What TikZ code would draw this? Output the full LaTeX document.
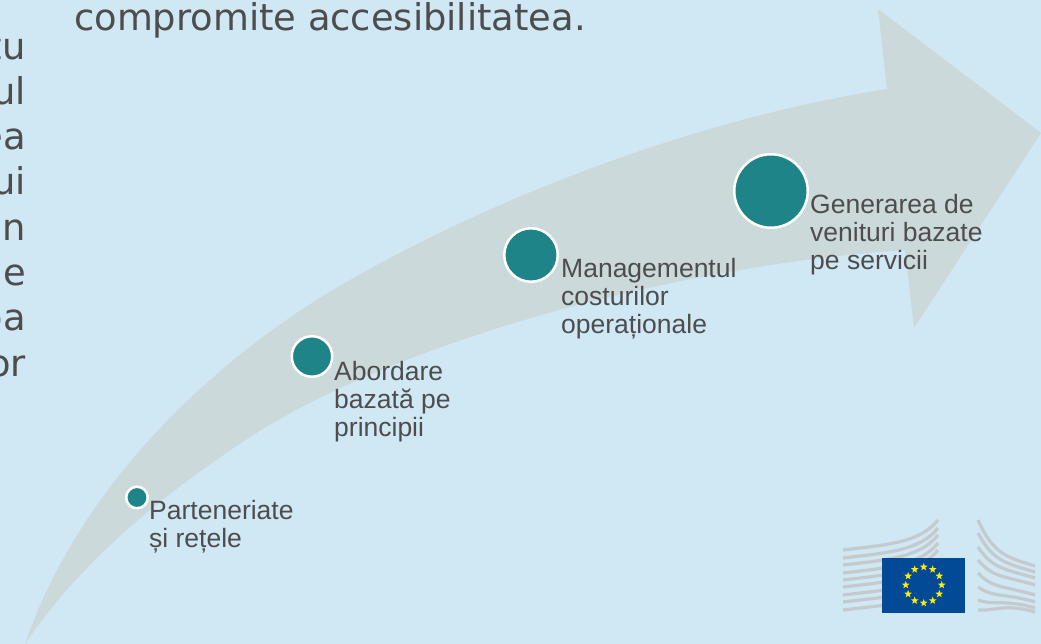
\documentclass[tikz,border=0pt]{standalone}
\usepackage{fontspec}
\setmainfont{Liberation Sans}
\newfontfamily\bodyfont{DejaVu Sans}
\usetikzlibrary{shapes.geometric}
\definecolor{bgblue}{HTML}{D0E7F4}
\definecolor{arrowgrey}{HTML}{CBD9DA}
\definecolor{tealdot}{HTML}{1E8488}
\definecolor{textgrey}{HTML}{4D4D4D}
\definecolor{flagblue}{HTML}{034A96}
\definecolor{stripegrey}{HTML}{C4CACE}
\definecolor{staryellow}{HTML}{FFED00}
\tikzset{
    dot/.style={circle,draw=white,line width=2.5pt,fill=tealdot,inner sep=0pt},
    steplabel/.style={anchor=north west,align=left,inner sep=0pt,text=textgrey,
        font=\fontsize{26.5}{27.8}\selectfont},
    bodytext/.style={inner sep=0pt,text=textgrey,
        font=\bodyfont\fontsize{36.85}{45.3}\selectfont},
    stripe/.style={stripegrey,line width=3.2pt},
    eustar/.style={star,star points=5,star point ratio=2.4,fill=staryellow,inner sep=0pt,minimum size=8pt}
}
\begin{document}
\begin{tikzpicture}[x=1pt,y=-1pt]
    \clip (0,0) rectangle (1041,644);
    \fill[bgblue] (0,0) rectangle (1041,644);
    % big arrow
    \fill[arrowgrey] (25,644) .. controls (85,470) and (235,345) .. (350,280)
        .. controls (490,200) and (690,120) .. (887,89)
        -- (878,9) -- (1041,133) -- (914,328) -- (905,250)
        .. controls (680,265) and (400,340) .. (250,437)
        .. controls (170,490) and (85,555) .. (25,644) -- cycle;
    % text cut off by the page
    \node[bodytext,anchor=base west] (title) at (74,30.5) {compromite accesibilitatea.};
    \node[bodytext,anchor=north east,align=right] (sidetext) at (26,33) {tu\\ul\\ea\\ui\\n\\e\\ba\\or};
    % steps
    \node[dot,minimum size=21.5pt] (partner) at (137,497.5) {};
    \node[dot,minimum size=40.5pt] (principle) at (312,356.5) {};
    \node[dot,minimum size=53.5pt] (cost) at (531,255) {};
    \node[dot,minimum size=73.5pt] (revenue) at (771,191) {};
    \node[steplabel] (partnerlbl) at (149,500.5) {Parteneriate\\și rețele};
    \node[steplabel] (principlelbl) at (334,361) {Abordare\\bazată pe\\principii};
    \node[steplabel] (costlbl) at (561,258) {Managementul\\costurilor\\operaționale};
    \node[steplabel] (revenuelbl) at (810,194) {Generarea de\\venituri bazate\\pe servicii};
    % logo, left building
    \foreach \a/\b in {520/550,528/558,535/565,543/573,550/580,560/587,570/595,580/602,590/610}
    {
        \draw[stripe] (843,\b) .. controls (885,{\b-5}) and (920,{\b-7}) .. (938,\a);
    }
    % logo, right building
    \foreach \a/\b in {520/566,533/572,547/578,560/585,573/595,587/602,600/608,610/612}
    {
        \draw[stripe] (978,\a) .. controls (993,{\a+.72*(\b-\a)}) and (1005,{\b-9}) .. (1035,\b);
    }
    % logo, flag
    \fill[flagblue] (882,558) rectangle (965,613);
    \foreach \i in {1,...,12}
    {
        \node[eustar] (star\i) at ({923.7+18*cos(30*\i)},{585-18*sin(30*\i)}) {};
    }
\end{tikzpicture}
\end{document}
